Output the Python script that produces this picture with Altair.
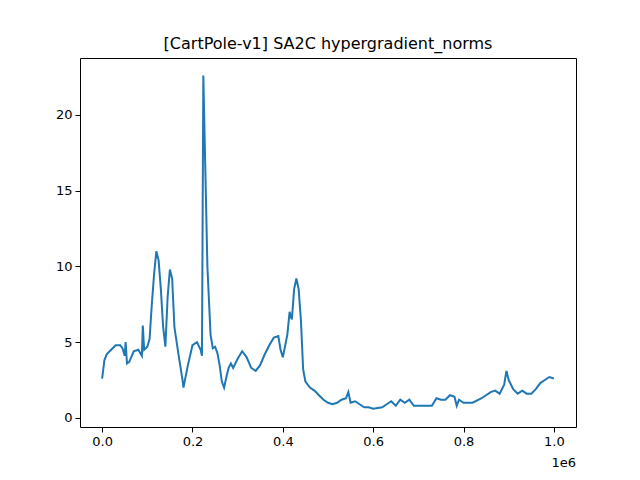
import altair as alt
import pandas as pd

steps = [0,0.005,0.01,0.02,0.03,0.04,0.045,0.05,0.052,0.055,0.06,0.07,0.08,0.088,0.09,0.093,0.1,0.105,0.11,0.115,0.12,0.125,0.13,0.135,0.14,0.145,0.15,0.155,0.16,0.17,0.178,0.18,0.19,0.2,0.21,0.218,0.221,0.224,0.228,0.233,0.24,0.245,0.25,0.255,0.26,0.265,0.27,0.275,0.28,0.285,0.29,0.3,0.31,0.32,0.33,0.34,0.35,0.36,0.37,0.38,0.39,0.395,0.4,0.41,0.415,0.42,0.425,0.43,0.435,0.44,0.445,0.45,0.46,0.47,0.48,0.49,0.5,0.51,0.52,0.53,0.54,0.545,0.55,0.56,0.57,0.58,0.59,0.6,0.62,0.63,0.64,0.65,0.66,0.67,0.68,0.69,0.7,0.72,0.73,0.74,0.75,0.76,0.77,0.78,0.785,0.79,0.8,0.82,0.84,0.86,0.87,0.88,0.89,0.895,0.9,0.91,0.92,0.93,0.94,0.95,0.96,0.97,0.98,0.99,1.0]
norms = [2.6,3.8,4.2,4.5,4.8,4.8,4.6,4.1,5.0,3.6,3.7,4.4,4.5,4.1,6.1,4.5,4.7,5.2,7.5,9.5,11.0,10.4,8.5,6.0,4.7,8.0,9.8,9.2,6.0,4.0,2.5,2.0,3.5,4.8,5.0,4.5,4.1,22.6,17,10,5.5,4.6,4.7,4.3,3.5,2.4,2.0,2.7,3.3,3.6,3.3,3.9,4.4,4.0,3.3,3.1,3.5,4.2,4.8,5.3,5.4,4.5,4.0,5.5,7.0,6.5,8.5,9.2,8.5,6.5,3.2,2.4,2.0,1.8,1.5,1.2,1.0,0.9,1.0,1.2,1.3,1.7,1.0,1.1,0.9,0.7,0.7,0.6,0.7,0.9,1.1,0.8,1.2,1.0,1.2,0.8,0.8,0.8,0.8,1.3,1.2,1.2,1.5,1.4,0.8,1.2,1.0,1.0,1.3,1.7,1.8,1.6,2.2,3.1,2.5,1.9,1.6,1.8,1.6,1.6,1.9,2.3,2.5,2.7,2.6]

df = pd.DataFrame({"x": steps, "y": norms})
F = "DejaVu Sans"

line = alt.Chart(df).mark_line(color="#1f77b4", strokeWidth=2, clip=True).encode(
    x=alt.X("x:Q", scale=alt.Scale(domain=[-0.049, 1.049], nice=False, zero=False),
            axis=alt.Axis(values=[0,0.2,0.4,0.6,0.8,1.0], format=".1f", title=None, grid=False)),
    y=alt.Y("y:Q", scale=alt.Scale(domain=[-0.6, 23.76], nice=False, zero=False),
            axis=alt.Axis(values=[0,5,10,15,20], title=None, grid=False)),
)
exp = alt.Chart(pd.DataFrame({"t": ["1e6"]})).mark_text(
    font=F, fontSize=13, align="right", baseline="top", color="black"
).encode(x=alt.value(496), y=alt.value(399), text="t:N")

chart = (line + exp).properties(
    width=496, height=369,
    title=alt.TitleParams("[CartPole-v1] SA2C hypergradient_norms", font=F, fontSize=16, fontWeight="normal", offset=6),
    autosize=alt.AutoSizeParams(type="none"),
    padding={"left": 72, "top": 50, "right": 56, "bottom": 45},
).configure_axis(
    labelFont=F, labelFontSize=13, labelColor="black", tickColor="black", domain=False,
    tickSize=5, labelPadding=3,
).configure_view(stroke="black", strokeWidth=1)

chart.save("out.html", embed_options={"renderer": "svg", "actions": False})
